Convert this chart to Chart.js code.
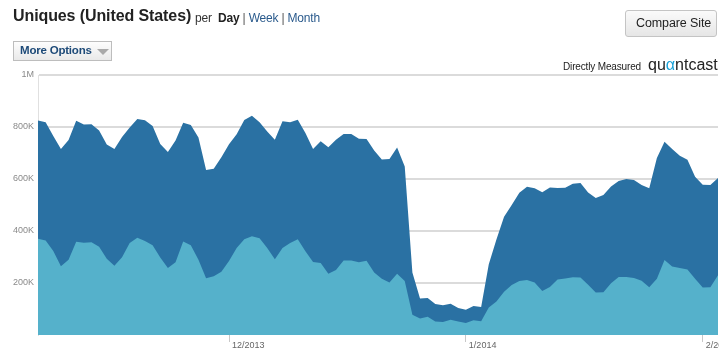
<!DOCTYPE html>
<html>
<head>
<meta charset="utf-8">
<script src="https://cdn.jsdelivr.net/npm/chart.js@4.4.1/dist/chart.umd.min.js"></script>
<style>
  html, body { margin: 0; padding: 0; background: #fff; }
  body { width: 727px; height: 356px; position: relative; overflow: hidden; font-family: "Liberation Sans", Arial, sans-serif; }
  #wrap { position: absolute; left: 0; top: 0; width: 719px; height: 356px; }
  .abs { position: absolute; white-space: nowrap; }
  #title { left: 13px; top: 7px; font-size: 16px; font-weight: bold; color: #222; letter-spacing: -0.1px; }
  #per { left: 195px; top: 11px; font-size: 12px; color: #333; letter-spacing: -0.2px; }
  #per b { color: #222; }
  #per .lnk { color: #2a5a8c; }
  #per .sep { color: #555; }
  #more { left: 13px; top: 41px; width: 97px; height: 18px; border: 1px solid #bdbdbd; background: linear-gradient(#fdfdfd, #e9e9e9); box-sizing: content-box; }
  #more span { position: absolute; left: 6px; top: 2px; font-size: 11.5px; font-weight: bold; color: #1d4a78; letter-spacing: -0.2px; }
  #more i { position: absolute; left: 83px; top: 7px; width: 0; height: 0; border-left: 6px solid transparent; border-right: 6px solid transparent; border-top: 6px solid #a9a9a9; }
  #compare { left: 625px; top: 10px; width: 90px; height: 25px; border: 1px solid #c4c4c4; border-radius: 3px; background: linear-gradient(#fafafa, #e6e6e6); }
  #compare span { position: absolute; left: 10px; top: 5px; font-size: 12.5px; color: #222; letter-spacing: -0.1px; }
  #dm { left: 563px; top: 61px; font-size: 10px; color: #222; letter-spacing: -0.15px; }
  #qc { left: 648px; top: 56px; font-size: 16px; color: #222; font-family: "Liberation Sans", sans-serif; letter-spacing: 0px; }
  #qc .a { color: #1aa2d8; }
</style>
</head>
<body>
<div id="wrap"><canvas id="c" width="719" height="356"></canvas></div>
<div class="abs" id="title">Uniques (United States)</div>
<div class="abs" id="per">per&nbsp; <b>Day</b> <span class="sep">|</span> <span class="lnk">Week</span> <span class="sep">|</span> <span class="lnk">Month</span></div>
<div class="abs" id="more"><span>More Options</span><i></i></div>
<div class="abs" id="compare"><span>Compare Site</span></div>
<div class="abs" id="dm">Directly Measured</div>
<div class="abs" id="qc">qu<span class="a">α</span>ntcast</div>
<script>
const dates = [
  "11/6/2013","11/7/2013","11/8/2013","11/9/2013","11/10/2013","11/11/2013","11/12/2013","11/13/2013","11/14/2013","11/15/2013",
  "11/16/2013","11/17/2013","11/18/2013","11/19/2013","11/20/2013","11/21/2013","11/22/2013","11/23/2013","11/24/2013","11/25/2013",
  "11/26/2013","11/27/2013","11/28/2013","11/29/2013","11/30/2013",
  "12/1/2013","12/2/2013","12/3/2013","12/4/2013","12/5/2013","12/6/2013","12/7/2013","12/8/2013","12/9/2013","12/10/2013",
  "12/11/2013","12/12/2013","12/13/2013","12/14/2013","12/15/2013","12/16/2013","12/17/2013","12/18/2013","12/19/2013","12/20/2013",
  "12/21/2013","12/22/2013","12/23/2013","12/24/2013","12/25/2013","12/26/2013","12/27/2013","12/28/2013","12/29/2013","12/30/2013","12/31/2013",
  "1/1/2014","1/2/2014","1/3/2014","1/4/2014","1/5/2014","1/6/2014","1/7/2014","1/8/2014","1/9/2014","1/10/2014",
  "1/11/2014","1/12/2014","1/13/2014","1/14/2014","1/15/2014","1/16/2014","1/17/2014","1/18/2014","1/19/2014","1/20/2014",
  "1/21/2014","1/22/2014","1/23/2014","1/24/2014","1/25/2014","1/26/2014","1/27/2014","1/28/2014","1/29/2014","1/30/2014","1/31/2014",
  "2/1/2014","2/2/2014","2/3/2014"
];

// Total uniques (top edge of dark area), in thousands
const totalUniques = [
  825,818,765,715,750,824,810,811,787,733,
  715,762,798,831,826,804,735,704,748,816,
  808,760,635,639,684,734,772,827,843,818,
  783,751,822,818,828,777,715,745,722,751,
  773,773,755,754,710,675,677,721,648,240,
  140,142,119,114,120,104,97,112,108,272,
  367,455,500,547,570,564,549,567,565,566,
  582,585,548,527,538,571,592,600,596,577,
  564,681,743,715,689,674,609,578,577,604
];

// Lighter segment (lower area), in thousands
const lightUniques = [
  370,363,323,264,289,359,355,357,339,293,
  266,299,354,374,362,345,298,258,280,360,
  345,289,218,226,243,285,335,368,380,372,
  335,291,335,354,368,322,281,277,236,250,
  287,287,280,286,240,216,202,236,208,78,
  63,70,52,50,59,52,46,57,53,106,
  129,166,192,208,212,202,169,185,213,217,
  222,221,193,163,164,199,223,223,219,209,
  184,216,288,263,258,252,216,183,184,230
];

const tickDates = ["12/1/2013","1/1/2014","2/1/2014"];
const tickLabels = ["12/2013","1/2014","2/2014"];
const yTickValues = [200000, 400000, 600000, 800000, 1000000];
const yTickLabels = ["200K", "400K", "600K", "800K", "1M"];

new Chart(document.getElementById('c'), {
  type: 'line',
  data: {
    labels: dates,
    datasets: [
      {
        label: 'Light',
        data: lightUniques.map(v => v * 1000),
        backgroundColor: '#55b1cb',
        borderWidth: 0,
        pointRadius: 0,
        fill: 'origin',
        tension: 0
      },
      {
        label: 'Total',
        data: totalUniques.map(v => v * 1000),
        backgroundColor: '#2a71a3',
        borderWidth: 0,
        pointRadius: 0,
        fill: 'origin',
        tension: 0
      }
    ]
  },
  options: {
    responsive: false,
    animation: false,
    layout: { padding: { top: 75, right: 1, left: 0, bottom: 0 } },
    plugins: { legend: { display: false }, tooltip: { enabled: false } },
    scales: {
      x: {
        type: 'category',
        offset: false,
        afterBuildTicks: (scale) => {
          scale.ticks = scale.ticks.filter(t => tickDates.includes(dates[t.value]));
        },
        afterFit: (scale) => { scale.height = 21; scale.paddingLeft = 0; scale.paddingRight = 0; },
        grid: { drawOnChartArea: false, drawTicks: true, tickLength: 7, color: '#c8c8c8', lineWidth: 1 },
        border: { display: false },
        ticks: {
          autoSkip: false,
          maxRotation: 0,
          align: 'start',
          labelOffset: 3,
          padding: -2,
          color: '#666',
          font: { family: 'Liberation Sans', size: 9 },
          callback: function (value) {
            const k = tickDates.indexOf(dates[value]);
            return k >= 0 ? tickLabels[k] : '';
          }
        }
      },
      y: {
        min: 0,
        max: 1000000,
        z: 1,
        afterBuildTicks: (scale) => {
          scale.ticks = yTickValues.map(v => ({ value: v }));
        },
        afterFit: (scale) => { scale.width = 38; scale.paddingTop = 0; scale.paddingBottom = 0; },
        grid: {
          drawTicks: false,
          lineWidth: 2,
          color: 'rgba(0,0,0,0.14)'
        },
        border: { display: true, color: 'rgba(0,0,0,0.12)', width: 1 },
        ticks: {
          padding: 4,
          color: '#8a8a8a',
          font: { family: 'Liberation Sans', size: 9 },
          callback: (value) => {
            const k = yTickValues.indexOf(value);
            return k >= 0 ? yTickLabels[k] : '';
          }
        }
      }
    }
  }
});
</script>
</body>
</html>
